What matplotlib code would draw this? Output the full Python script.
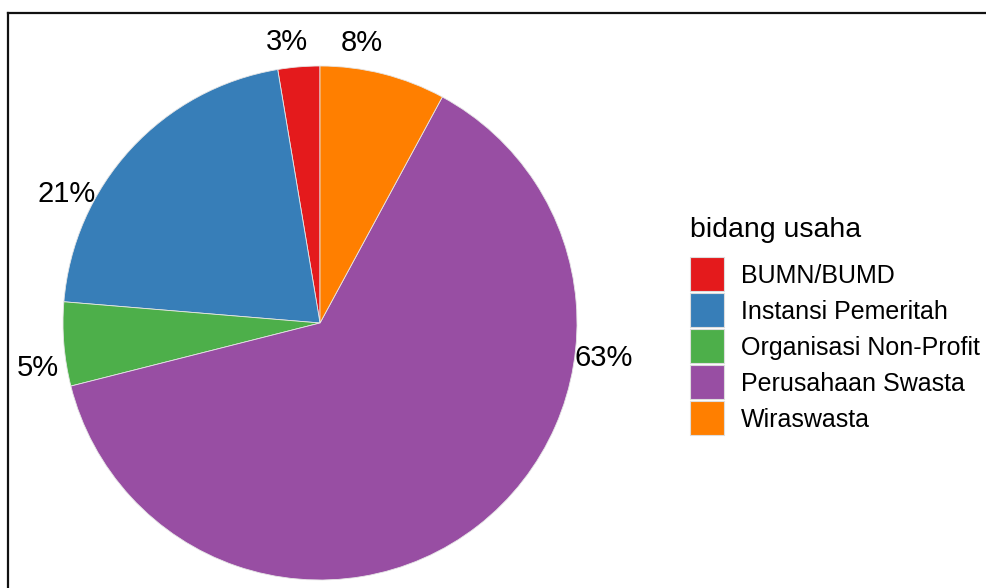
import numpy as np
import matplotlib.pyplot as plt
from matplotlib.patches import Rectangle
from matplotlib.lines import Line2D

plt.rcParams['font.family'] = ['Liberation Sans', 'DejaVu Sans']

# ── data ──────────────────────────────────────────────────────────────────────
kategori = ['BUMN/BUMD', 'Instansi Pemeritah', 'Organisasi Non-Profit',
            'Perusahaan Swasta', 'Wiraswasta']
jumlah = [1, 8, 2, 24, 3]
warna = ['#E41A1C', '#377EB8', '#4DAF4A', '#984EA3', '#FF7F00']

W, H = 987, 588
fig = plt.figure(figsize=(W / 100, H / 100), dpi=100)
ax = fig.add_axes([0, 0, 1, 1])

cx, cy, r = 320, H - 323, 257
ax.pie(jumlah, colors=warna, startangle=90, counterclock=True,
       center=(cx, cy), radius=r, frame=True,
       wedgeprops=dict(edgecolor='#e6e6e6', linewidth=0.6))
ax.set_xlim(0, W)
ax.set_ylim(0, H)
ax.set_aspect('equal')
ax.axis('off')

# persentase di luar lingkaran (digit dipusatkan pada titik)
fs_lbl = 21
cap = 0.358 * fs_lbl * 100 / 72
total = sum(jumlah)
awal = 0.0
for n in jumlah:
    lebar = 360.0 * n / total
    sudut = np.deg2rad(90 + awal + 0.70 * lebar)
    ax.text(cx + 1.11 * r * np.cos(sudut),
            cy + 1.11 * r * np.sin(sudut) - cap,
            f'{round(100 * n / total)}%', ha='center', va='baseline',
            fontsize=fs_lbl)
    awal += lebar

# legenda
ax.text(690, H - 237, 'bidang usaha', ha='left', va='baseline', fontsize=20.5)
for i, (lab, c) in enumerate(zip(kategori, warna)):
    y_top = 257 + 36 * i
    ax.add_patch(Rectangle((690, H - y_top - 34), 34, 34, facecolor=c,
                           edgecolor='#dddddd', linewidth=0.8))
    ax.text(741, H - y_top - 26, lab, ha='left', va='baseline', fontsize=18)

# bingkai
fig.add_artist(Line2D([8 / W, 1], [1 - 12.5 / H, 1 - 12.5 / H],
                      color='#111111', linewidth=1.6))
fig.add_artist(Line2D([8 / W, 8 / W], [0, 1 - 12.5 / H],
                      color='#111111', linewidth=1.6))

fig.savefig('out.png', dpi=100)
